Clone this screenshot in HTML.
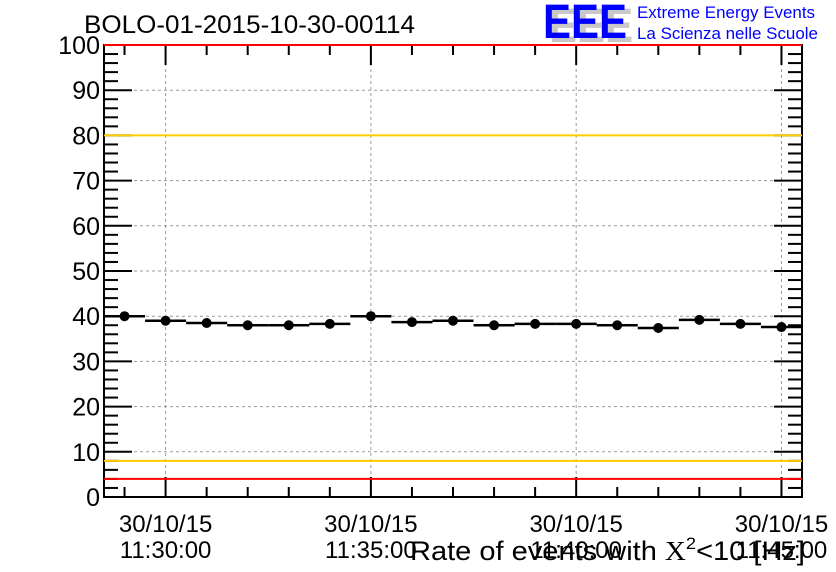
<!DOCTYPE html>
<html><head><meta charset="utf-8"><style>
body{margin:0;background:#fff;}
svg{display:block;font-family:"Liberation Sans",sans-serif;}
</style></head><body>
<svg id="c" width="836" height="572" viewBox="0 0 836 572">
<text x="84" y="33" font-size="25" textLength="331" lengthAdjust="spacingAndGlyphs">BOLO-01-2015-10-30-00114</text>
<g>
<text x="549" y="42" font-size="48" font-weight="bold" fill="#c8c8c8" textLength="84" lengthAdjust="spacingAndGlyphs">EEE</text>
<text x="543" y="38" font-size="48" font-weight="bold" fill="#0000ff" textLength="84" lengthAdjust="spacingAndGlyphs">EEE</text>
<text x="637" y="18" font-size="17" fill="#0000ff" textLength="178" lengthAdjust="spacingAndGlyphs">Extreme Energy Events</text>
<text x="637" y="39" font-size="17" fill="#0000ff" textLength="181" lengthAdjust="spacingAndGlyphs">La Scienza nelle Scuole</text>
</g>
<g id="grid"></g><g id="axes"></g><g id="marks"></g>
<text x="410" y="560" font-size="27" textLength="395" lengthAdjust="spacingAndGlyphs">Rate of events with <tspan font-family="Liberation Serif">X</tspan><tspan font-size="17" dy="-11">2</tspan><tspan dy="11">&lt;10 [Hz]</tspan></text>
</svg>
<script>
const values=[40,39,38.5,38,38,38.3,40,38.7,39,38,38.3,38.3,38,37.4,39.2,38.3,37.6];
const yTicks=[0,10,20,30,40,50,60,70,80,90,100];
const xTickLabels=["11:30:00","11:35:00","11:40:00","11:45:00"];
const xTickMinutes=[1.5,6.5,11.5,16.5];
const refLines=[{v:100,c:"#ff0000"},{v:80,c:"#ffcc00"},{v:8,c:"#ffcc00"},{v:4,c:"#ff0000"}];
const L=104,R=802,T=45,B=497,NB=values.length;
const X=m=>L+(R-L)*m/NB;
const Y=v=>B-(B-T)*v/100;
const NS="http://www.w3.org/2000/svg";
function mk(p,t,a){const e=document.createElementNS(NS,t);for(const k in a)e.setAttribute(k,a[k]);p.appendChild(e);return e;}
const g=document.getElementById('grid'),ax=document.getElementById('axes'),mg=document.getElementById('marks');
yTicks.forEach(v=>{if(v>0&&v<100){const l=mk(g,'line',{x1:L,x2:R,y1:Y(v),y2:Y(v),stroke:'#999','stroke-dasharray':'3,3'});

}});
xTickMinutes.forEach(m=>{const l=mk(g,'line',{x1:X(m),x2:X(m),y1:T,y2:B,stroke:'#999','stroke-dasharray':'3,3'});

});
const fr=mk(ax,'rect',{x:L,y:T,width:R-L,height:B-T,fill:'none',stroke:'#000','stroke-width':2});


for(let v=0;v<=100;v+=2){const big=v%10==0,len=big?28:14;
mk(ax,'line',{x1:L,x2:L+len,y1:Y(v),y2:Y(v),stroke:'#000','stroke-width':2});
mk(ax,'line',{x1:R-len,x2:R,y1:Y(v),y2:Y(v),stroke:'#000','stroke-width':2});}
yTicks.forEach(v=>{const t=mk(ax,'text',{x:L-4,y:Y(v)+9,'font-size':25,'text-anchor':'end'});t.textContent=v;

});
for(let m=0.5;m<=NB;m+=1){const big=xTickMinutes.includes(m),len=big?20:10;
mk(ax,'line',{x1:X(m),x2:X(m),y1:B,y2:B-len,stroke:'#000','stroke-width':2});
mk(ax,'line',{x1:X(m),x2:X(m),y1:T,y2:T+len,stroke:'#000','stroke-width':2});}
xTickMinutes.forEach((m,i)=>{const t1=mk(ax,'text',{x:X(m),y:532,'font-size':24,'text-anchor':'middle'});t1.textContent="30/10/15";


const t2=mk(ax,'text',{x:X(m),y:558,'font-size':24,'text-anchor':'middle'});t2.textContent=xTickLabels[i];

});
refLines.forEach(r=>{const l=mk(mg,'line',{x1:L,x2:R,y1:Y(r.v),y2:Y(r.v),stroke:r.c,'stroke-width':2});

});
values.forEach((v,i)=>{const h=mk(mg,'line',{x1:X(i),x2:X(i+1),y1:Y(v),y2:Y(v),stroke:'#000','stroke-width':2.5});


const c=mk(mg,'circle',{cx:X(i+0.5),cy:Y(v),r:5,fill:'#000'});

});
</script>
</body></html>
